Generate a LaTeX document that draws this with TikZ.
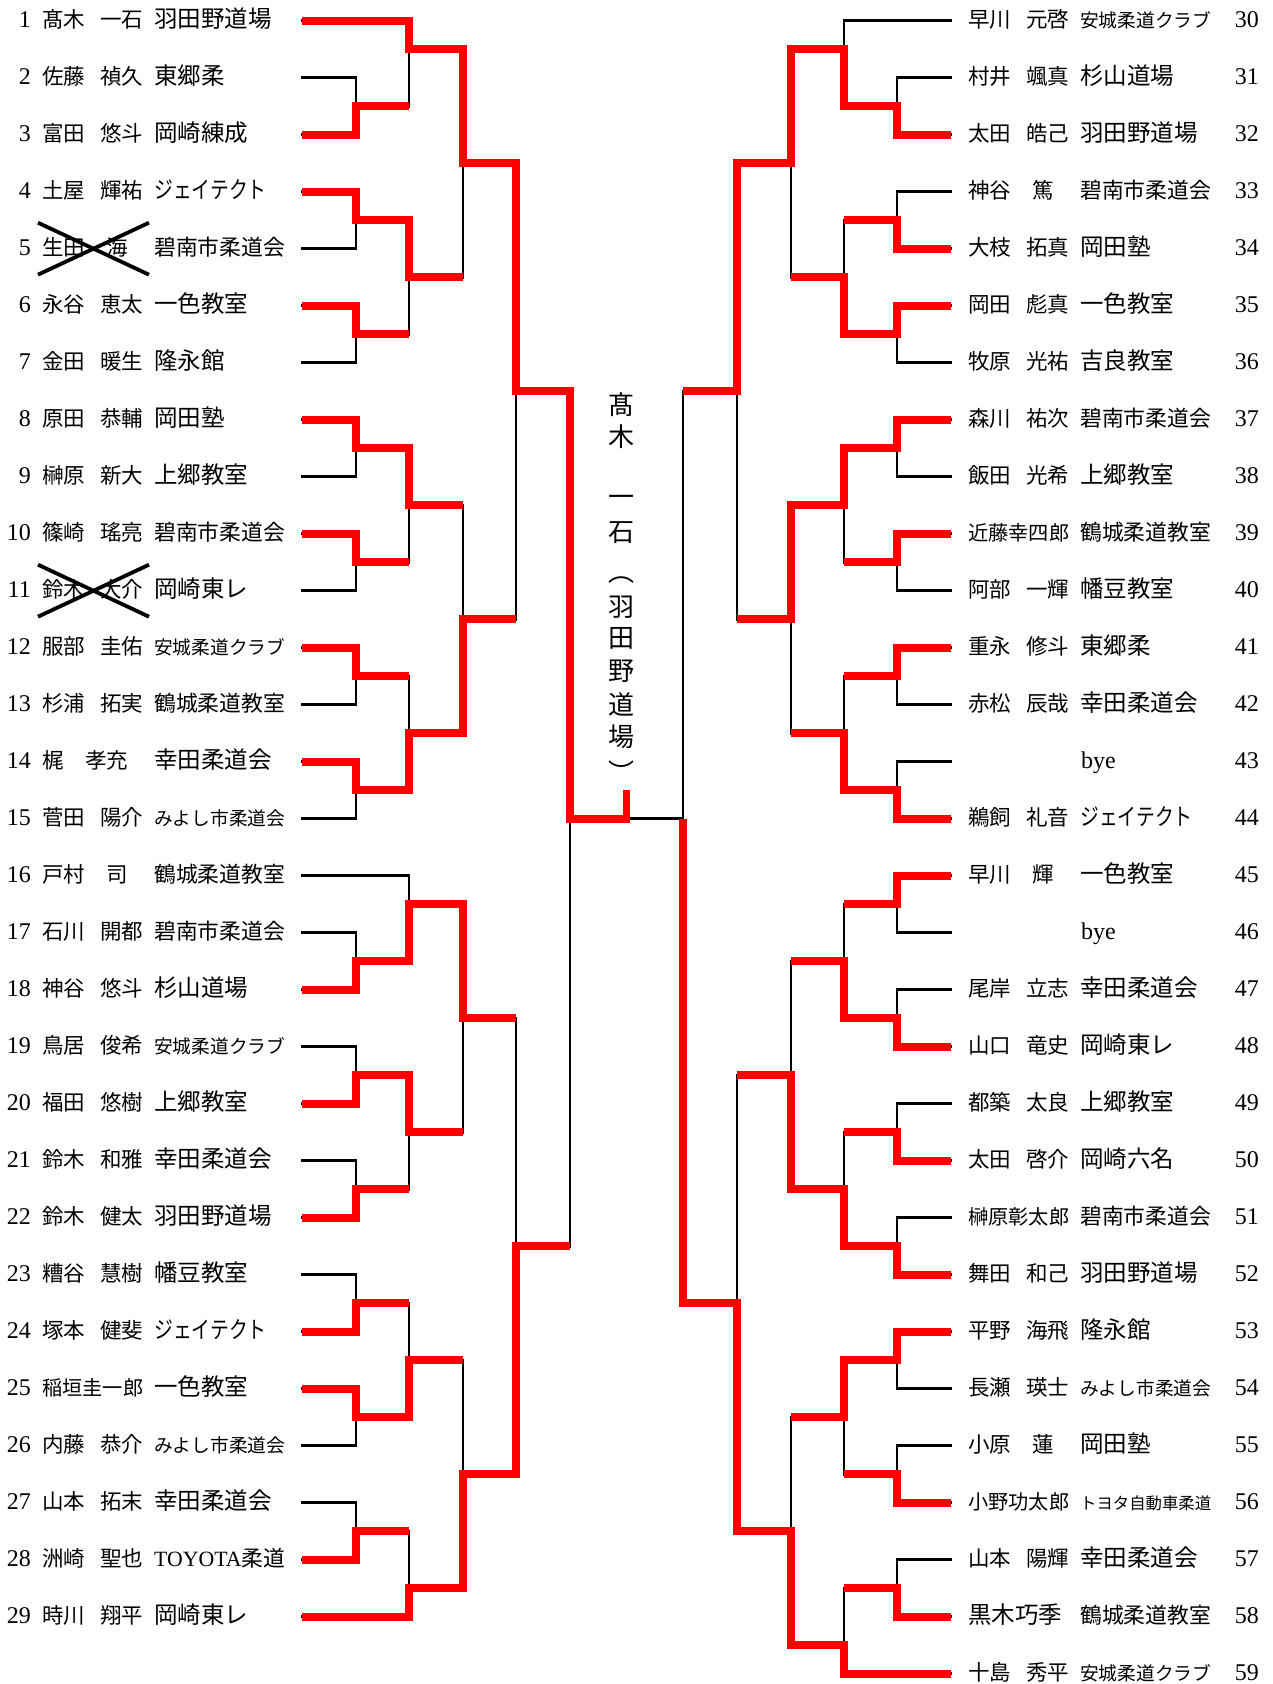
\documentclass[tikz,border=0pt]{standalone}
\usepackage{fontspec}
\setmainfont{Liberation Serif}
\newfontfamily\jp{Noto Sans CJK JP}
\usepackage{graphicx}
\newsavebox\clubbox
\newcommand\club[1]{\sbox\clubbox{#1}\ifdim\wd\clubbox>131pt\resizebox{131pt}{!}{\usebox\clubbox}\else\usebox\clubbox\fi}
\newcommand\kata[1]{\scalebox{0.8}[1]{#1}}
\newcommand\nn[2]{\hbox to 101pt{#1\hfil #2}}
\newcommand\five[1]{{\fontsize{20.2}{20.2}\selectfont #1}}
\newcommand\Lrow[3]{%
  \pgfmathsetmacro\ry{27.2+57*(#1-1)}%
  \node[num,anchor=base east] (ln#1) at (31,\ry) {#1};
  \node[nm,anchor=base west] (lm#1) at (42,\ry) {#2};
  \node[cl,anchor=base west] (lc#1) at (154,\ry) {\club{#3}};
}
\newcommand\Rrow[3]{%
  \pgfmathsetmacro\ry{27.2+57*(#1-30)}%
  \node[num,anchor=base east] (rn#1) at (1259,\ry) {#1};
  \node[nm,anchor=base west] (rm#1) at (968,\ry) {#2};
  \node[cl,anchor=base west] (rc#1) at (1080,\ry) {\club{#3}};
}
\newcommand\Rbye[1]{%
  \pgfmathsetmacro\ry{27.2+57*(#1-30)}%
  \node[num,anchor=base east] (rn#1) at (1259,\ry) {#1};
  \node[num,anchor=base west] (rb#1) at (1081,\ry) {bye};
}
\begin{document}
\begin{tikzpicture}[x=1pt,y=-1pt,
  num/.style={inner sep=0pt,font=\fontsize{24}{24}\selectfont},
  nm/.style={inner sep=0pt,font=\jp\fontsize{21.5}{21.5}\selectfont},
  cl/.style={inner sep=0pt,font=\jp\fontsize{23.5}{23.5}\selectfont},
  cj/.style={inner sep=0pt,font=\jp\fontsize{26}{26}\selectfont},
  blk/.style={line width=2.7pt,line cap=rect},
  rd/.style={line width=7.6pt,red,line join=miter},
  xmark/.style={line width=3.8pt}]
\useasboundingbox[fill=white] (0,0) rectangle (1272,1684);

% ---------------- left entries
\Lrow{1}{\nn{髙木}{一石}}{羽田野道場}
\Lrow{2}{\nn{佐藤}{禎久}}{東郷柔}
\Lrow{3}{\nn{富田}{悠斗}}{岡崎練成}
\Lrow{4}{\nn{土屋}{輝祐}}{\kata{ジェイテクト}}
\Lrow{5}{生田　海}{碧南市柔道会}
\Lrow{6}{\nn{永谷}{恵太}}{一色教室}
\Lrow{7}{\nn{金田}{暖生}}{隆永館}
\Lrow{8}{\nn{原田}{恭輔}}{岡田塾}
\Lrow{9}{\nn{榊原}{新大}}{上郷教室}
\Lrow{10}{\nn{篠崎}{瑤亮}}{碧南市柔道会}
\Lrow{11}{\nn{鈴木}{大介}}{岡崎東レ}
\Lrow{12}{\nn{服部}{圭佑}}{安城柔道クラブ}
\Lrow{13}{\nn{杉浦}{拓実}}{鶴城柔道教室}
\Lrow{14}{梶　孝充}{幸田柔道会}
\Lrow{15}{\nn{菅田}{陽介}}{みよし市柔道会}
\Lrow{16}{戸村　司}{鶴城柔道教室}
\Lrow{17}{\nn{石川}{開都}}{碧南市柔道会}
\Lrow{18}{\nn{神谷}{悠斗}}{杉山道場}
\Lrow{19}{\nn{鳥居}{俊希}}{安城柔道クラブ}
\Lrow{20}{\nn{福田}{悠樹}}{上郷教室}
\Lrow{21}{\nn{鈴木}{和雅}}{幸田柔道会}
\Lrow{22}{\nn{鈴木}{健太}}{羽田野道場}
\Lrow{23}{\nn{糟谷}{慧樹}}{幡豆教室}
\Lrow{24}{\nn{塚本}{健斐}}{\kata{ジェイテクト}}
\Lrow{25}{\five{稲垣圭一郎}}{一色教室}
\Lrow{26}{\nn{内藤}{恭介}}{みよし市柔道会}
\Lrow{27}{\nn{山本}{拓末}}{幸田柔道会}
\Lrow{28}{\nn{洲崎}{聖也}}{{\rmfamily TOYOTA}柔道}
\Lrow{29}{\nn{時川}{翔平}}{岡崎東レ}

% ---------------- right entries
\Rrow{30}{\nn{早川}{元啓}}{安城柔道クラブ}
\Rrow{31}{\nn{村井}{颯真}}{杉山道場}
\Rrow{32}{\nn{太田}{皓己}}{羽田野道場}
\Rrow{33}{神谷　篤}{碧南市柔道会}
\Rrow{34}{\nn{大枝}{拓真}}{岡田塾}
\Rrow{35}{\nn{岡田}{彪真}}{一色教室}
\Rrow{36}{\nn{牧原}{光祐}}{吉良教室}
\Rrow{37}{\nn{森川}{祐次}}{碧南市柔道会}
\Rrow{38}{\nn{飯田}{光希}}{上郷教室}
\Rrow{39}{\five{近藤幸四郎}}{鶴城柔道教室}
\Rrow{40}{\nn{阿部}{一輝}}{幡豆教室}
\Rrow{41}{\nn{重永}{修斗}}{東郷柔}
\Rrow{42}{\nn{赤松}{辰哉}}{幸田柔道会}
\Rbye{43}
\Rrow{44}{\nn{鵜飼}{礼音}}{\kata{ジェイテクト}}
\Rrow{45}{早川　輝}{一色教室}
\Rbye{46}
\Rrow{47}{\nn{尾岸}{立志}}{幸田柔道会}
\Rrow{48}{\nn{山口}{竜史}}{岡崎東レ}
\Rrow{49}{\nn{都築}{太良}}{上郷教室}
\Rrow{50}{\nn{太田}{啓介}}{岡崎六名}
\Rrow{51}{\five{榊原彰太郎}}{碧南市柔道会}
\Rrow{52}{\nn{舞田}{和己}}{羽田野道場}
\Rrow{53}{\nn{平野}{海飛}}{隆永館}
\Rrow{54}{\nn{長瀬}{瑛士}}{みよし市柔道会}
\Rrow{55}{小原　蓮}{岡田塾}
\Rrow{56}{\five{小野功太郎}}{トヨタ自動車柔道}
\Rrow{57}{\nn{山本}{陽輝}}{幸田柔道会}
\Rrow{58}{{\fontsize{23.5}{23.5}\selectfont 黒木巧季}}{鶴城柔道教室}
\Rrow{59}{\nn{十島}{秀平}}{安城柔道クラブ}

% ---------------- crossed-out entries
\draw[xmark] (38,222.7) -- (149,274.7);
\draw[xmark] (38,274.7) -- (149,222.7);
\draw[xmark] (38,564.7) -- (149,616.7);
\draw[xmark] (38,616.7) -- (149,564.7);

% ---------------- champion (vertical)
\node[cj] (c1) at (621,405) {髙};
\node[cj] (c2) at (621,437) {木};
\node[cj] (c3) at (621,501) {一};
\node[cj] (c4) at (621,533) {石};
\node[cj] (c5) at (621,580) {︵};
\node[cj] (c6) at (621,607) {羽};
\node[cj] (c7) at (621,638) {田};
\node[cj] (c8) at (621,671) {野};
\node[cj] (c9) at (621,705) {道};
\node[cj] (c10) at (621,737) {場};
\node[cj] (c11) at (621,772) {︶};

% ---------------- bracket (y unit = half row)
\begin{scope}[x=1pt,y=-28.5pt,yshift=-20.7pt]
% black skeleton, left
\draw[blk] (302,0) -- (409,0);
\draw[blk] (302,30) -- (409,30);
\draw[blk] (302,56) -- (409,56);
\foreach \k in {2,4,...,28} {\draw[blk] (302,\k) -- (356,\k);}
\foreach \k in {32,34,...,54} {\draw[blk] (302,\k) -- (356,\k);}
\foreach \t in {2,6,10,14,18,22,26,32,36,40,44,48,52}
  {\draw[blk] (356,\t) -- (356,\t+2); \draw[blk] (356,\t+1) -- (409,\t+1);}
\foreach \a/\b/\o in {0/3/1,7/11/9,15/19/17,23/27/25,30/33/31,37/41/39,45/49/47,53/56/55}
  {\draw[blk] (409,\a) -- (409,\b); \draw[blk] (409,\o) -- (463,\o);}
\foreach \a/\b/\o in {1/9/5,17/25/21,31/39/35,47/55/51}
  {\draw[blk] (463,\a) -- (463,\b); \draw[blk] (463,\o) -- (516,\o);}
\foreach \a/\b/\o in {5/21/13,35/51/43}
  {\draw[blk] (516,\a) -- (516,\b); \draw[blk] (516,\o) -- (570,\o);}
\draw[blk] (570,13) -- (570,43);
\draw[blk] (570,28) -- (626.5,28);
% black skeleton, right
\draw[blk] (951,0) -- (844,0);
\draw[blk] (951,58) -- (844,58);
\foreach \k in {2,4,...,56} {\draw[blk] (951,\k) -- (897,\k);}
\foreach \t in {2,6,...,54}
  {\draw[blk] (897,\t) -- (897,\t+2); \draw[blk] (897,\t+1) -- (844,\t+1);}
\foreach \a/\b/\o in {0/3/1,7/11/9,15/19/17,23/27/25,31/35/33,39/43/41,47/51/49,55/58/57}
  {\draw[blk] (844,\a) -- (844,\b); \draw[blk] (844,\o) -- (791,\o);}
\foreach \a/\b/\o in {1/9/5,17/25/21,33/41/37,49/57/53}
  {\draw[blk] (791,\a) -- (791,\b); \draw[blk] (791,\o) -- (737,\o);}
\foreach \a/\b/\o in {5/21/13,37/53/45}
  {\draw[blk] (737,\a) -- (737,\b); \draw[blk] (737,\o) -- (683,\o);}
\draw[blk] (683,13) -- (683,45);
\draw[blk] (683,28) -- (626.5,28);

% red winner paths, left
\draw[rd] (302,0) -- (409,0) -- (409,1) -- (463,1) -- (463,5) -- (516,5) -- (516,13) -- (570,13) -- (570,28) -- (626.5,28) -- (626.5,27);
\draw[rd] (302,4) -- (356,4) -- (356,3) -- (409,3);
\draw[rd] (302,6) -- (356,6) -- (356,7) -- (409,7) -- (409,9) -- (463,9);
\draw[rd] (302,10) -- (356,10) -- (356,11) -- (409,11);
\draw[rd] (302,14) -- (356,14) -- (356,15) -- (409,15) -- (409,17) -- (463,17);
\draw[rd] (302,18) -- (356,18) -- (356,19) -- (409,19);
\draw[rd] (302,22) -- (356,22) -- (356,23) -- (409,23);
\draw[rd] (302,26) -- (356,26) -- (356,27) -- (409,27) -- (409,25) -- (463,25) -- (463,21) -- (516,21);
\draw[rd] (302,34) -- (356,34) -- (356,33) -- (409,33) -- (409,31) -- (463,31) -- (463,35) -- (516,35);
\draw[rd] (302,38) -- (356,38) -- (356,37) -- (409,37) -- (409,39) -- (463,39);
\draw[rd] (302,42) -- (356,42) -- (356,41) -- (409,41);
\draw[rd] (302,46) -- (356,46) -- (356,45) -- (409,45);
\draw[rd] (302,48) -- (356,48) -- (356,49) -- (409,49) -- (409,47) -- (463,47);
\draw[rd] (302,54) -- (356,54) -- (356,53) -- (409,53);
\draw[rd] (302,56) -- (409,56) -- (409,55) -- (463,55) -- (463,51) -- (516,51) -- (516,43) -- (570,43);
% red winner paths, right
\draw[rd] (951,4) -- (897,4) -- (897,3) -- (844,3) -- (844,1) -- (791,1) -- (791,5) -- (737,5) -- (737,13) -- (683,13);
\draw[rd] (951,8) -- (897,8) -- (897,7) -- (844,7);
\draw[rd] (951,10) -- (897,10) -- (897,11) -- (844,11) -- (844,9) -- (791,9);
\draw[rd] (951,14) -- (897,14) -- (897,15) -- (844,15) -- (844,17) -- (791,17) -- (791,21) -- (737,21);
\draw[rd] (951,18) -- (897,18) -- (897,19) -- (844,19);
\draw[rd] (951,22) -- (897,22) -- (897,23) -- (844,23);
\draw[rd] (951,28) -- (897,28) -- (897,27) -- (844,27) -- (844,25) -- (791,25);
\draw[rd] (951,30) -- (897,30) -- (897,31) -- (844,31);
\draw[rd] (951,36) -- (897,36) -- (897,35) -- (844,35) -- (844,33) -- (791,33);
\draw[rd] (951,40) -- (897,40) -- (897,39) -- (844,39);
\draw[rd] (951,44) -- (897,44) -- (897,43) -- (844,43) -- (844,41) -- (791,41) -- (791,37) -- (737,37);
\draw[rd] (951,46) -- (897,46) -- (897,47) -- (844,47) -- (844,49) -- (791,49);
\draw[rd] (951,52) -- (897,52) -- (897,51) -- (844,51);
\draw[rd] (951,56) -- (897,56) -- (897,55) -- (844,55);
\draw[rd] (951,58) -- (844,58) -- (844,57) -- (791,57) -- (791,53) -- (737,53) -- (737,45) -- (683,45) -- (683,28);
\end{scope}
\end{tikzpicture}
\end{document}
